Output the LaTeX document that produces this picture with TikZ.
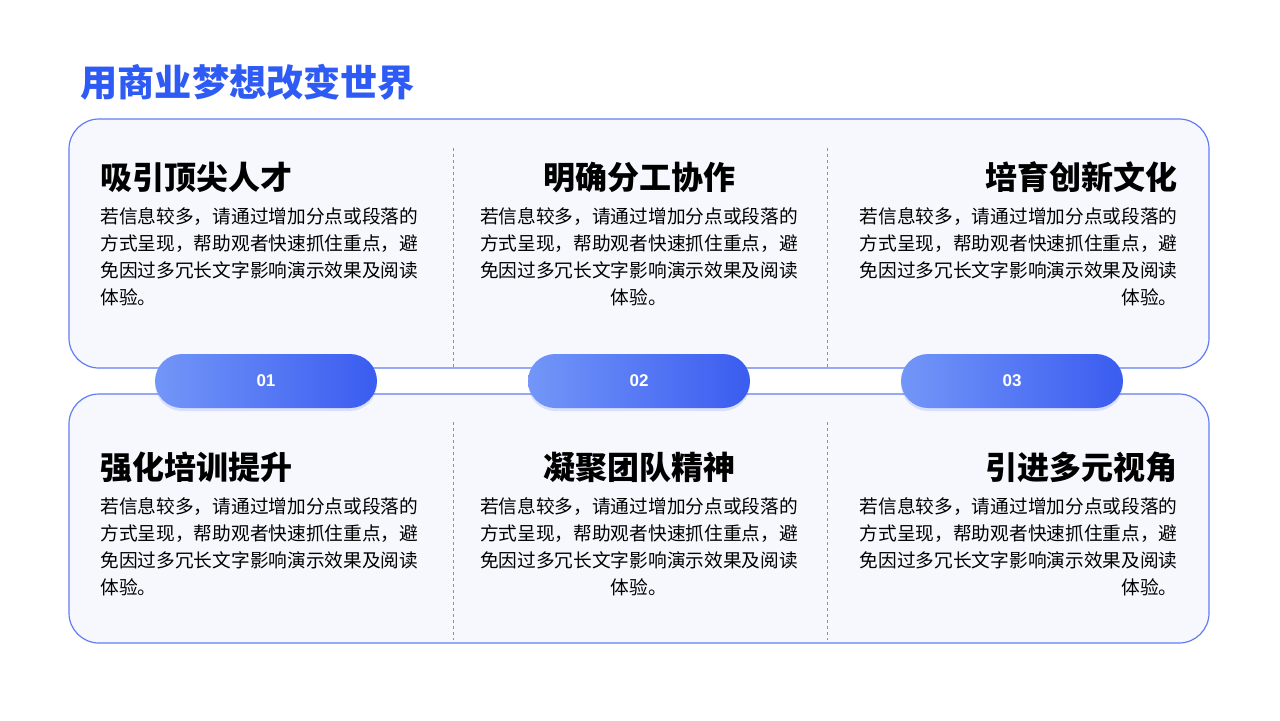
\documentclass[tikz,border=0pt]{standalone}
\usepackage{fontspec}
\newfontfamily\cjk{Noto Sans CJK SC}
\setmainfont{Liberation Sans}
\usetikzlibrary{shadows}
\definecolor{mblue}{HTML}{3A5CF0}
\definecolor{lblue}{HTML}{7396F8}
\definecolor{panel}{HTML}{F7F8FE}
\definecolor{tblue}{HTML}{2F5BF5}
\tikzset{
 panelbox/.style={draw=mblue!80,line width=0.6pt,fill=panel,rounded corners=15pt},
 divline/.style={draw=mblue!70,line width=0.5pt,dash pattern=on 1.5pt off 1.5pt},
 pill/.style={rounded corners=13.5pt,minimum width=111pt,minimum height=27pt,left color=lblue,right color=mblue,draw=none,text=white,font=\bfseries\fontsize{8.5}{10}\selectfont,drop shadow={shadow xshift=0pt,shadow yshift=-1.5pt,opacity=0.15,fill=mblue}},
 head/.style={font=\cjk\bfseries\fontsize{16}{19}\selectfont,inner sep=0pt},
 body/.style={font=\cjk\fontsize{9.35}{13.5}\selectfont,inner sep=0pt}
}
\def\txt{若信息较多，请通过增加分点或段落的\\方式呈现，帮助观者快速抓住重点，避\\免因过多冗长文字影响演示效果及阅读\\体验。}
\begin{document}
\begin{tikzpicture}[x=0.5pt,y=-0.5pt]
\useasboundingbox[fill=white] (0,0) rectangle (1280,720);
\node[anchor=west,text=tblue,font=\cjk\bfseries\fontsize{18.6}{22}\selectfont,inner sep=0pt] (title) at (80,82) {用商业梦想改变世界};
\path[panelbox] (69,119) rectangle (1209,368);
\path[panelbox] (69,394) rectangle (1209,643);
\foreach \x/\n in {453/a,827/b}{
 \coordinate (t\n1) at (\x,148); \coordinate (t\n2) at (\x,368);
 \coordinate (b\n1) at (\x,422); \coordinate (b\n2) at (\x,640);
 \draw[divline] (t\n1) -- (t\n2); \draw[divline] (b\n1) -- (b\n2);}
\node[pill] (p1) at (266,381) {01};
\node[pill] (p2) at (639,381) {02};
\node[pill] (p3) at (1012,381) {03};
\foreach \y/\ya/\hA/\hB/\hC/\s in {177/207/吸引顶尖人才/明确分工协作/培育创新文化/t,467/497/强化培训提升/凝聚团队精神/引进多元视角/b}{
 \node[head,anchor=west] (\s h1) at (100,\y) {\hA};
 \node[head] (\s h2) at (639,\y) {\hB};
 \node[head,anchor=east] (\s h3) at (1178,\y) {\hC};
 \node[body,align=left,anchor=north west] (\s b1) at (100,\ya) {\txt};
 \node[body,align=center,anchor=north] (\s b2) at (639,\ya) {\txt};
 \node[body,align=right,anchor=north east] (\s b3) at (1178,\ya) {\txt};
}
\end{tikzpicture}
\end{document}
